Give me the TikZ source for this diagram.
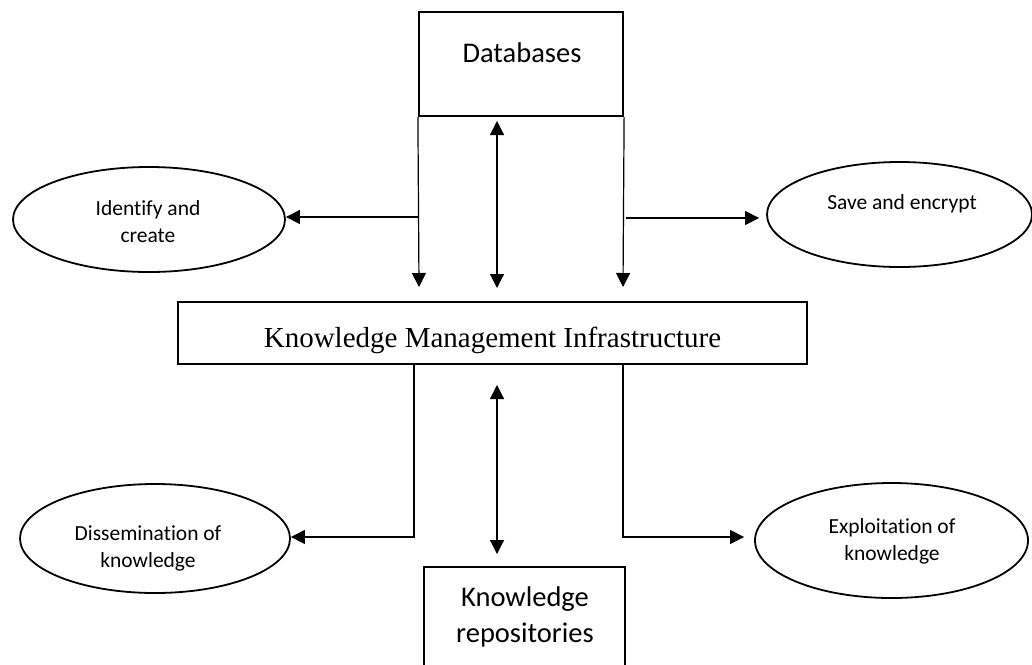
\documentclass[tikz,border=0pt]{standalone}
\usepackage{fontspec}
\setmainfont{Carlito}[RawFeature=-liga]
\newfontfamily\kmifont{Liberation Serif}
\usetikzlibrary{shapes.geometric,arrows.meta,calc}
\begin{document}
\begin{tikzpicture}[x=1pt,y=-1pt,
  box/.style={draw,line width=2.2pt,rectangle,inner sep=0pt},
  oval/.style={draw,line width=1.8pt,ellipse,inner sep=0pt},
  lab/.style={font=\fontsize{21.5}{27}\selectfont,align=center,inner sep=0pt},
  big/.style={font=\fontsize{28.5}{36}\selectfont,align=center,inner sep=0pt},
  conn/.style={line width=1.2pt},
  arr/.style={conn,-{Triangle[length=14pt,width=14pt]}},
  darr/.style={conn,{Triangle[length=14pt,width=14pt]}-{Triangle[length=14pt,width=14pt]}}]
\useasboundingbox (0,0) rectangle (1032,664);

% boxes
\node[box,minimum width=204pt,minimum height=104pt] (db) at (521,64) {};
\node[big] (dbT) at (522,53) {Databases};
\node[box,minimum width=629pt,minimum height=62pt] (kmi) at (492.5,333) {};
\node[inner sep=0pt,font=\kmifont\fontsize{29}{34}\selectfont] (kmiT) at (492.5,340) {Knowledge Management Infrastructure};
\node[box,minimum width=201pt,minimum height=100pt] (kr) at (524.5,617) {};
\node[big] (krT) at (525,617) {Knowledge\\repositories};

% ellipses
\node[oval,minimum width=272pt,minimum height=105pt] (idc) at (149,219.5) {};
\node[lab] (idcT) at (148,222) {Identify and\\create};
\node[oval,minimum width=265pt,minimum height=105pt] (save) at (899.5,214.5) {};
\node[lab] (saveT) at (902,204) {Save and encrypt};
\node[oval,minimum width=270pt,minimum height=109pt] (dis) at (155,538.5) {};
\node[lab] (disT) at (148,548) {Dissemination of\\knowledge};
\node[oval,minimum width=273pt,minimum height=115pt] (exp) at (891.5,540.5) {};
\node[lab] (expT) at (892,541) {Exploitation of\\knowledge};

% upper connectors
\coordinate (aL) at (419,287);
\coordinate (aR) at (623,287);
\draw[arr] (db.south west) -- (aL);
\draw[arr] (db.south east) -- (aR);
\coordinate (hL) at (419,217);
\draw[arr] (hL) -- (hL -| idc.east);
\coordinate (hR) at (626,218);
\draw[arr] (hR) -- ([xshift=-7pt]hR -| save.west);
\coordinate (m1) at (497,121);
\coordinate (m2) at (497,288);
\draw[darr] (m1) -- (m2);

% lower connectors
\coordinate (bl) at (414,537);
\draw[arr] (bl |- kmi.south) -- (bl) -- (bl -| dis.east);
\coordinate (br) at (623,537);
\draw[arr] (br |- kmi.south) -- (br) -- ([xshift=-10pt]br -| exp.west);
\coordinate (n1) at (497,385);
\coordinate (n2) at (497,554);
\draw[darr] (n1) -- (n2);
\end{tikzpicture}
\end{document}
